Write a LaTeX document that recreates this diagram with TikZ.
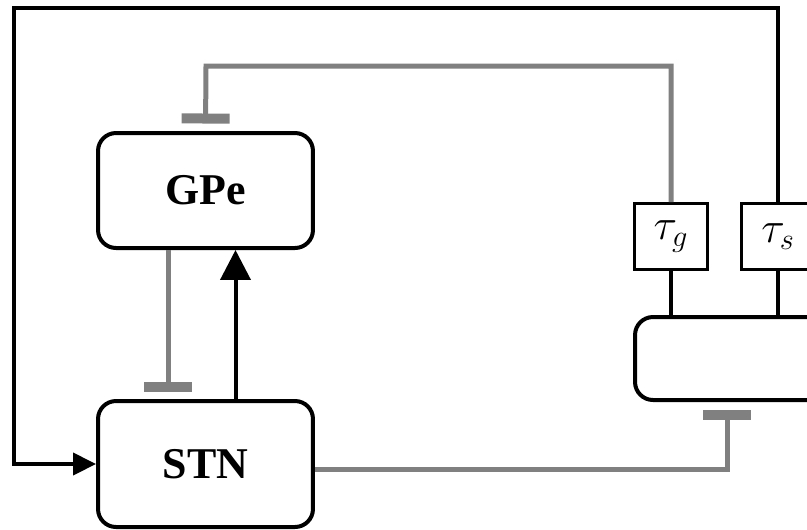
\documentclass[tikz,border=0pt]{standalone}
\usepackage{fontspec}
\setmainfont{Liberation Serif}
\usetikzlibrary{calc,arrows.meta}
\definecolor{inhgray}{RGB}{128,128,128}

\begin{document}
\begin{tikzpicture}[x=0.02cm, y=-0.02cm,
    block/.style={draw, line width=0.08cm, rounded corners=0.36cm, inner sep=0pt,
        minimum width=4.3cm, font=\fontsize{25}{30}\selectfont\bfseries},
    taubox/.style={draw, line width=0.06cm, inner sep=0pt, minimum width=1.46cm,
        minimum height=1.32cm, font=\fontsize{24}{28}\selectfont},
    exc/.style={line width=0.08cm},
    inh/.style={draw=inhgray, line width=0.1cm,
        -{Bar[width=0.96cm, line width=0.2cm]}, shorten >=0.15cm}]
    \clip (0,0) rectangle (807,529);
    % the three blocks
    \node[block, minimum height=2.3cm] (GPe) at (205.5,190.5) {GPe};
    \node[block, minimum height=2.52cm] (STN) at (205.5,464) {STN};
    \node[block, minimum height=1.66cm] (sum) at (742.5,358.5) {};
    % delays
    \node[taubox] (tg) at (671,236.5) {$\tau_g$};
    \node[taubox] (ts) at (778,236.5) {$\tau_s$};
    \coordinate (gtop) at (206,66);
    \coordinate (stop) at (14,8);
    % connections
    \draw [exc] (tg.south) -- (tg.south |- sum.north);
    \draw [exc] (ts.south) -- (ts.south |- sum.north);
    \draw [exc, -{Triangle[width=0.44cm, length=0.46cm]}]
        (ts.north) |- (stop) |- (STN.west);
    \draw [exc, -{Triangle[width=0.6cm, length=0.6cm]}]
        ($(STN.north)+(30,0)$) -- ($(GPe.south)+(30,0)$);
    \draw [inh] ($(GPe.south)+(-37.5,0)$) -- ($(STN.north)+(-37.5,0)$);
    \draw [inh] (tg.north) |- (gtop) -- (GPe.north);
    \draw [inh] ($(STN.east)+(0,5)$) -| ($(sum.south)+(-15.5,0)$);
\end{tikzpicture}
\end{document}
